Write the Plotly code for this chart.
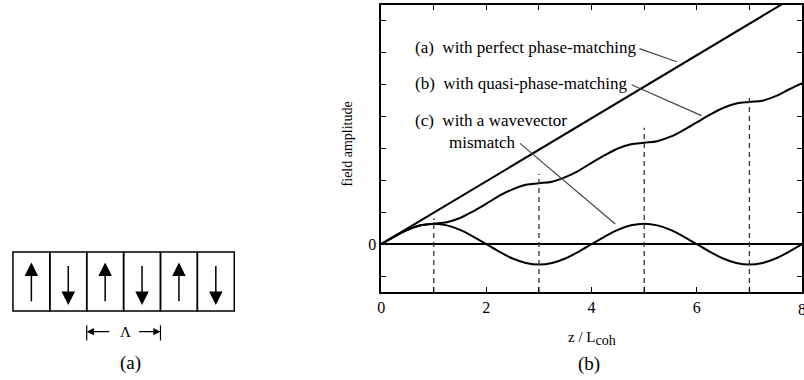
import plotly.graph_objects as go

# ---------------- data ----------------
z = [0, 0.25, 0.5, 0.75, 1, 1.25, 1.5, 1.75, 2, 2.25, 2.5, 2.75, 3, 3.25, 3.5, 3.75,
     4, 4.25, 4.5, 4.75, 5, 5.25, 5.5, 5.75, 6, 6.25, 6.5, 6.75, 7, 7.25, 7.5, 7.75, 8]
qpm = [0, 0.24, 0.45, 0.59, 0.64, 0.69, 0.82, 1.03, 1.27, 1.52, 1.72, 1.86, 1.91, 1.96,
       2.10, 2.30, 2.55, 2.79, 3.00, 3.13, 3.18, 3.23, 3.37, 3.58, 3.82, 4.06, 4.27, 4.41,
       4.46, 4.50, 4.64, 4.85, 5.05]
mismatch = [0, 0.24, 0.45, 0.59, 0.64, 0.59, 0.45, 0.24, 0, -0.24, -0.45, -0.59, -0.64,
            -0.59, -0.45, -0.24, 0, 0.24, 0.45, 0.59, 0.64, 0.59, 0.45, 0.24, 0, -0.24,
            -0.45, -0.59, -0.64, -0.59, -0.45, -0.24, 0]
perfect_z = [0, 8]
perfect = [0, 7.9]

flip_z = [1, 3, 5, 7]
flip_top = [0.81, 2.2, 3.65, 4.65]

x_ticks = [0, 1, 2, 3, 4, 5, 6, 7, 8]
x_ticktext = ["0", " ", "2", " ", "4", " ", "6", " ", "8"]
y_ticks = [-1, 0, 1, 2, 3, 4, 5, 6, 7]
y_ticktext = [" ", "0", " ", " ", " ", " ", " ", " ", " "]

domains = [1, -1, 1, -1, 1, -1]   # polarization direction of each domain

NB = "\u00a0"
labels = ["(a)" + NB + NB + "with perfect phase-matching",
          "(b)" + NB + NB + "with quasi-phase-matching",
          "(c)" + NB + NB + "with a wavevector",
          "mismatch"]

FONT = "Liberation Serif, Times New Roman, serif"
W, H = 804, 380

fig = go.Figure()

# ---------------- right panel (field amplitude) ----------------
line_style = dict(color="black", width=2)
fig.add_trace(go.Scatter(x=perfect_z, y=perfect, mode="lines", line=line_style,
                         xaxis="x", yaxis="y"))
fig.add_trace(go.Scatter(x=z, y=qpm, mode="lines", line=dict(line_style, shape="spline"),
                         xaxis="x", yaxis="y"))
fig.add_trace(go.Scatter(x=z, y=mismatch, mode="lines", line=dict(line_style, shape="spline"),
                         xaxis="x", yaxis="y"))
for zz, top in zip(flip_z, flip_top):
    fig.add_trace(go.Scatter(x=[zz, zz], y=[-1.5, top], mode="lines",
                             line=dict(color="#333", width=1.3, dash="5px,4px"),
                             xaxis="x", yaxis="y"))

# leader lines
leaders = [((4.91, 6.13), (5.62, 5.72)),
           ((4.76, 5.0), (6.09, 4.03)),
           ((2.64, 3.16), (4.45, 0.63))]
for (x0, y0), (x1, y1) in leaders:
    fig.add_shape(type="line", x0=x0, y0=y0, x1=x1, y1=y1, xref="x", yref="y",
                  line=dict(color="#444", width=1.2))

label_pos = [(0.60, 6.16), (0.60, 5.03), (0.60, 3.875), (1.26, 3.19)]
for txt, (lx, ly) in zip(labels, label_pos):
    fig.add_annotation(x=lx, y=ly, xref="x", yref="y", text=txt, showarrow=False,
                       xanchor="left", yanchor="middle",
                       font=dict(family=FONT, size=17, color="black"))

# "8" tick label at the clipped right edge (half visible, as in the original)
fig.add_annotation(x=8, y=-1.5, xref="x", yref="y", text="8", showarrow=False,
                   xanchor="center", yanchor="middle", yshift=-17,
                   font=dict(family=FONT, size=16, color="black"))

# axis titles and panel label
fig.add_annotation(x=592 / W, y=1 - 338 / H, xref="paper", yref="paper",
                   text="z / L<sub><span style='font-size:14px'>coh</span></sub>",
                   showarrow=False, xanchor="center", yanchor="middle",
                   font=dict(family=FONT, size=15, color="black"))
fig.add_annotation(x=346 / W, y=1 - 144 / H, xref="paper", yref="paper",
                   text="field amplitude", textangle=-90, showarrow=False,
                   xanchor="center", yanchor="middle",
                   font=dict(family=FONT, size=14, color="black"))
fig.add_annotation(x=589 / W, y=1 - 364 / H, xref="paper", yref="paper",
                   text="(b)", showarrow=False, xanchor="center", yanchor="middle",
                   font=dict(family=FONT, size=19, color="black"))

# ---------------- left panel (domain diagram) ----------------
# x2: cell index units; y2: box height units (0 = bottom, 1 = top of box)
px_cell = (232 - 9) / 6.0
px_box = 311 - 252
x2_left_px, x2_right_px = 2, 240
y2_top_px, y2_bot_px = 240, 375
x2_range = [-(9 - x2_left_px) / px_cell, 6 + (x2_right_px - 232) / px_cell]
y2_range = [-(y2_bot_px - 311) / px_box, 1 + (252 - y2_top_px) / px_box]

fig.add_trace(go.Scatter(x=[0], y=[0], mode="markers", marker=dict(opacity=0),
                         xaxis="x2", yaxis="y2", hoverinfo="skip"))
for i, d in enumerate(domains):
    fig.add_shape(type="rect", x0=i, x1=i + 1, y0=0, y1=1, xref="x2", yref="y2",
                  line=dict(color="black", width=1.5))
    tail, tip = (0.14, 0.82) if d > 0 else (0.79, 0.10)
    fig.add_annotation(x=i + 0.5, y=tip, ax=i + 0.5, ay=tail, xref="x2", yref="y2",
                       axref="x2", ayref="y2", text="", showarrow=True,
                       arrowhead=2, arrowsize=1.8, arrowwidth=1.5, arrowcolor="black")

# period marker spanning two domains
for xv in (2, 4):
    fig.add_shape(type="line", x0=xv, x1=xv, y0=-0.24, y1=-0.5, xref="x2", yref="y2",
                  line=dict(color="black", width=1.2))
fig.add_annotation(x=2.0, y=-0.35, ax=2.65, ay=-0.35, xref="x2", yref="y2",
                   axref="x2", ayref="y2", text="", showarrow=True,
                   arrowhead=2, arrowsize=1.2, arrowwidth=1.2, arrowcolor="black")
fig.add_annotation(x=4.0, y=-0.35, ax=3.38, ay=-0.35, xref="x2", yref="y2",
                   axref="x2", ayref="y2", text="", showarrow=True,
                   arrowhead=2, arrowsize=1.2, arrowwidth=1.2, arrowcolor="black")
fig.add_annotation(x=3.05, y=-0.35, xref="x2", yref="y2", text="Λ", showarrow=False,
                   xanchor="center", yanchor="middle",
                   font=dict(family=FONT, size=15, color="black"))
fig.add_annotation(x=3.2, y=-0.88, xref="x2", yref="y2", text="(a)", showarrow=False,
                   xanchor="center", yanchor="middle",
                   font=dict(family=FONT, size=19, color="black"))

fig.update_layout(
    width=W, height=H, margin=dict(l=0, r=0, t=0, b=0),
    paper_bgcolor="white", plot_bgcolor="white", showlegend=False,
    xaxis=dict(domain=[380 / W, 1.0], range=[0, 8], tickvals=x_ticks, ticktext=x_ticktext,
               ticks="inside", ticklen=5, tickwidth=1.2, tickcolor="black",
               showline=True, linecolor="black", linewidth=1.5, mirror="ticks",
               showgrid=False, zeroline=False,
               tickfont=dict(family=FONT, size=16, color="black")),
    yaxis=dict(domain=[1 - 292 / H, 1 - 5 / H], range=[-1.5, 7.5], tickvals=y_ticks,
               ticktext=y_ticktext,
               ticks="inside", ticklen=5, tickwidth=1.2, tickcolor="black",
               showline=True, linecolor="black", linewidth=1.5, mirror="ticks",
               showgrid=False, zeroline=True, zerolinecolor="black", zerolinewidth=1.8,
               tickfont=dict(family=FONT, size=16, color="black")),
    xaxis2=dict(domain=[x2_left_px / W, x2_right_px / W], range=x2_range, visible=False,
                anchor="y2"),
    yaxis2=dict(domain=[1 - y2_bot_px / H, 1 - y2_top_px / H], range=y2_range,
                visible=False, anchor="x2"),
)

fig.write_html("out.html")
